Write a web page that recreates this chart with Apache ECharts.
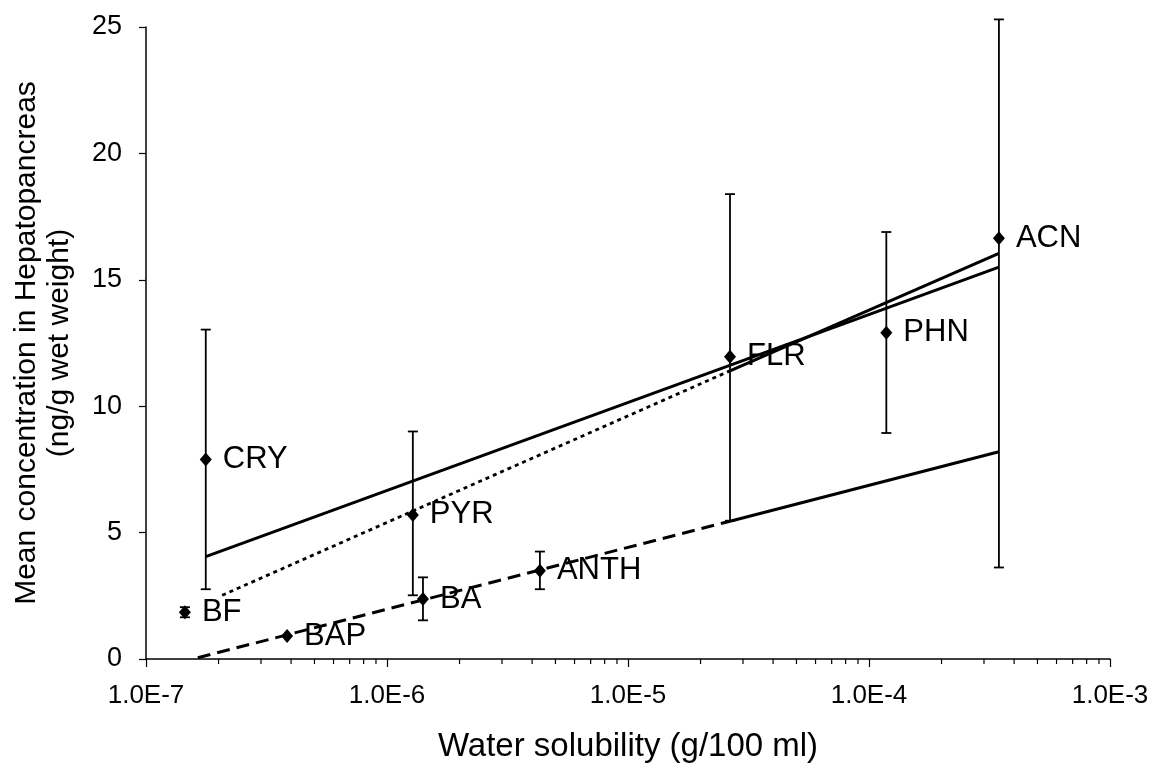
<!DOCTYPE html>
<html>
<head>
<meta charset="utf-8">
<script src="https://cdn.jsdelivr.net/npm/echarts@6/dist/echarts.min.js"></script>
<style>
html,body{margin:0;padding:0;background:#fff;}
#chart{width:1155px;height:768px;}
</style>
</head>
<body>
<div id="chart"></div>
<script>
// ---- data ----
const compounds  = ['BF', 'CRY', 'BAP', 'PYR', 'BA', 'ANTH', 'FLR', 'PHN', 'ACN'];
const solubility = [1.45e-7, 1.77e-7, 3.85e-7, 1.28e-6, 1.41e-6, 4.31e-6, 2.65e-5, 1.18e-4, 3.46e-4];
const meanConc   = [1.85, 7.89, 0.91, 5.70, 2.37, 3.49, 11.96, 12.91, 16.64];
const errLow     = [1.65, 2.76, null, 2.52, 1.53, 2.76, 5.47, 8.94, 3.62];
const errHigh    = [2.05, 13.03, null, 9.00, 3.23, 4.25, 18.39, 16.89, 25.3];

// trend lines (x, y pairs)
const trendA_x = [1.77e-7, 3.46e-4];
const trendA_y = [4.05, 15.5];
const trendB_dotted_x = [2.07e-7, 2.65e-5];
const trendB_dotted_y = [2.52, 11.4];
const trendB_solid_x = [2.65e-5, 3.46e-4];
const trendB_solid_y = [11.4, 16.05];
const trendC_dashed_x = [1.64e-7, 2.65e-5];
const trendC_dashed_y = [0.05, 5.45];
const trendC_solid_x = [2.65e-5, 3.46e-4];
const trendC_solid_y = [5.45, 8.2];

// axis ticks
const xMajorTicks = [1e-7, 1e-6, 1e-5, 1e-4, 1e-3];
const xMinorTicks = [
  2e-7,3e-7,4e-7,5e-7,6e-7,7e-7,8e-7,9e-7,
  2e-6,3e-6,4e-6,5e-6,6e-6,7e-6,8e-6,9e-6,
  2e-5,3e-5,4e-5,5e-5,6e-5,7e-5,8e-5,9e-5,
  2e-4,3e-4,4e-4,5e-4,6e-4,7e-4,8e-4,9e-4
];
const yTicks = [0, 5, 10, 15, 20, 25];

const FONT = "'Liberation Sans', Arial, sans-serif";
const pairs = (xs, ys) => xs.map((x, i) => [x, ys[i]]);

const pointData = compounds.map((c, i) => [solubility[i], meanConc[i], c]);
const errData = compounds.map((c, i) => [solubility[i], errLow[i], errHigh[i]]).filter(d => d[1] != null);

const chart = echarts.init(document.getElementById('chart'), null, {renderer: 'canvas'});

function solidLine(data) {
  return {
    type: 'line', data: data, showSymbol: false, symbol: 'none', silent: true, z: 2,
    lineStyle: {color: '#000', width: 3, type: 'solid'}
  };
}

const option = {
  backgroundColor: '#fff',
  animation: false,
  textStyle: {fontFamily: FONT, color: '#000'},
  grid: {left: 146, right: 45, top: 27, bottom: 106, containLabel: false},
  xAxis: {
    type: 'log', logBase: 10, min: xMajorTicks[0], max: xMajorTicks[xMajorTicks.length - 1],
    name: 'Water solubility (g/100 ml)', nameLocation: 'middle', nameGap: 71,
    nameTextStyle: {fontSize: 33, color: '#000', fontFamily: FONT},
    axisLine: {show: true, onZero: false, lineStyle: {color: '#000', width: 1.5}},
    axisTick: {show: true, inside: false, length: 8, lineStyle: {color: '#000', width: 1.2}},
    axisLabel: {
      fontSize: 26, color: '#000', fontFamily: FONT, margin: 24,
      formatter: v => Number(v).toExponential(1).toUpperCase()
    },
    splitLine: {show: false},
    minorTick: {show: false}
  },
  yAxis: {
    type: 'value', min: yTicks[0], max: yTicks[yTicks.length - 1], interval: 5,
    name: 'Mean concentration in Hepatopancreas\n(ng/g wet weight)',
    nameLocation: 'middle', nameGap: 70,
    nameTextStyle: {fontSize: 30, color: '#000', fontFamily: FONT, lineHeight: 33},
    axisLine: {show: true, lineStyle: {color: '#000', width: 1.5}},
    axisTick: {show: true, inside: false, length: 7, lineStyle: {color: '#000', width: 1.2}},
    axisLabel: {fontSize: 27, color: '#000', fontFamily: FONT, margin: 24},
    splitLine: {show: false}
  },
  series: [
    // minor log ticks on x axis
    {
      type: 'custom', silent: true, clip: false, z: 1,
      data: xMinorTicks.map(v => [v, 0]),
      encode: {x: 0, y: 1},
      renderItem: function (params, api) {
        const p = api.coord([api.value(0), 0]);
        return {
          type: 'line',
          shape: {x1: p[0], y1: p[1], x2: p[0], y2: p[1] + 5},
          style: {stroke: '#000', lineWidth: 1.2}
        };
      }
    },
    solidLine(pairs(trendA_x, trendA_y)),
    {
      type: 'line', data: pairs(trendB_dotted_x, trendB_dotted_y), showSymbol: false, symbol: 'none', silent: true, z: 2,
      lineStyle: {color: '#000', width: 2.8, type: [4, 4]}
    },
    solidLine(pairs(trendB_solid_x, trendB_solid_y)),
    {
      type: 'line', data: pairs(trendC_dashed_x, trendC_dashed_y), showSymbol: false, symbol: 'none', silent: true, z: 2,
      lineStyle: {color: '#000', width: 3, type: [13, 7]}
    },
    solidLine(pairs(trendC_solid_x, trendC_solid_y)),
    // error bars
    {
      type: 'custom', silent: true, clip: false, z: 3,
      data: errData,
      encode: {x: 0, y: [1, 2]},
      renderItem: function (params, api) {
        const x = api.value(0);
        const lo = api.coord([x, api.value(1)]);
        const hi = api.coord([x, api.value(2)]);
        const cap = 5;
        const st = {stroke: '#000', lineWidth: 1.8};
        return {
          type: 'group',
          children: [
            {type: 'line', shape: {x1: lo[0], y1: lo[1], x2: hi[0], y2: hi[1]}, style: st},
            {type: 'line', shape: {x1: lo[0] - cap, y1: lo[1], x2: lo[0] + cap, y2: lo[1]}, style: st},
            {type: 'line', shape: {x1: hi[0] - cap, y1: hi[1], x2: hi[0] + cap, y2: hi[1]}, style: st}
          ]
        };
      }
    },
    // data points with labels
    {
      type: 'scatter', z: 4,
      data: pointData,
      symbol: 'diamond', symbolSize: [12, 14],
      itemStyle: {color: '#000', opacity: 1},
      label: {
        show: true, position: 'right', distance: 11,
        formatter: p => p.data[2],
        fontSize: 31, color: '#000000', fontFamily: FONT, opacity: 1,
        textBorderWidth: 0
      }
    }
  ]
};
chart.setOption(option);
</script>
</body>
</html>
